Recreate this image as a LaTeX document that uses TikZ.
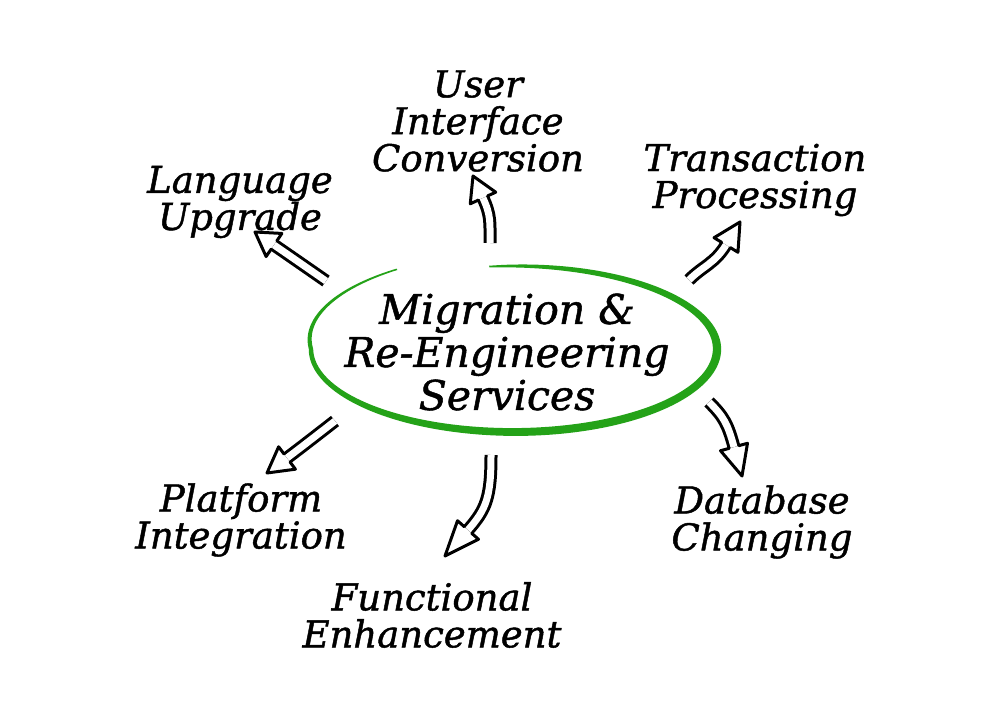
\documentclass[tikz,border=0pt]{standalone}
\usepackage{fontspec}
\setmainfont{DejaVu Serif}[FakeBold=1.2]
\usetikzlibrary{calc}
\definecolor{ellgreen}{RGB}{36,162,24}
\tikzset{
  shaftline/.style={draw=black, double=white, double distance=7pt, line width=3pt, line cap=butt},
  headline/.style={draw=black, line width=3pt, line join=round, line cap=round},
  outtext/.style={font=\fontsize{37}{37}\selectfont\itshape, align=center, inner sep=0pt},
  midtext/.style={font=\fontsize{41}{43}\selectfont\itshape, align=center, inner sep=0pt},
  declare function={ew(\u)=0.8+3.5*sin(180*(max(0.001,(97-\u)/336))^0.73); ef(\u)=1+0.12*max(0,(-180-\u)/59);}
}
\newcommand\harrow[4]{%
  \draw[shaftline] (#1) .. controls (#2) and ($(#3)!-0.8!(#4)$) .. (#3);
  \draw[headline] ($(#3)!5pt!90:(#4)$) -- ($(#3)!14pt!90:(#4)$) -- (#4) -- ($(#3)!14pt!-90:(#4)$) -- ($(#3)!5pt!-90:(#4)$);
}
\begin{document}
\begin{tikzpicture}[x=1pt,y=-1pt]
\useasboundingbox (0,0) rectangle (1000,708);
\fill[white] (0,0) rectangle (1000,708);
% green ellipse
\fill[ellgreen] plot[domain=97:-239, samples=240, variable=\t] ({514+(203*ef(\t)+ew(\t))*cos(\t)}, {349-(83*ef(\t)+ew(\t))*sin(\t)})
  -- plot[domain=-239:97, samples=240, variable=\t] ({514+(203*ef(\t)-ew(\t))*cos(\t)}, {349-(83*ef(\t)-ew(\t))*sin(\t)}) -- cycle;
% labels
\node[midtext] (mig) at (507,352) {Migration \&\\Re-Engineering\\Services};
\node[outtext] (lang) at (240,202) {Language\\Upgrade};
\node[outtext] (ui) at (478,121) {User\\Interface\\Conversion};
\node[outtext] (tp) at (755,180) {Transaction\\Processing};
\node[outtext] (pi) at (241,520) {Platform\\Integration};
\node[outtext] (db) at (762,522) {Database\\Changing};
\node[outtext] (fe) at (432,615) {Functional\\Enhancement};
% arrow coordinates
\coordinate (LUt) at (326,281); \coordinate (LUn) at (274,245); \coordinate (LUp) at (255,232);
\coordinate (UIt) at (490,243); \coordinate (UIn) at (483,198); \coordinate (UIp) at (473,176);
\coordinate (TPt) at (689,280); \coordinate (TPn) at (726,245); \coordinate (TPp) at (740,222);
\coordinate (DBt) at (709,402); \coordinate (DBn) at (734,447); \coordinate (DBp) at (742,476);
\coordinate (FEt) at (491,455); \coordinate (FEn) at (468,530); \coordinate (FEp) at (445,556);
\coordinate (PIt) at (335,421); \coordinate (PIn) at (287,458); \coordinate (PIp) at (267,473);
% arrows
\harrow{LUt}{LUt}{LUn}{LUp}
\harrow{UIt}{490,222}{UIn}{UIp}
\harrow{TPt}{703,266}{TPn}{TPp}
\harrow{DBt}{724,417}{DBn}{DBp}
\harrow{FEt}{491,497}{FEn}{FEp}
\harrow{PIt}{PIt}{PIn}{PIp}
\end{tikzpicture}
\end{document}
